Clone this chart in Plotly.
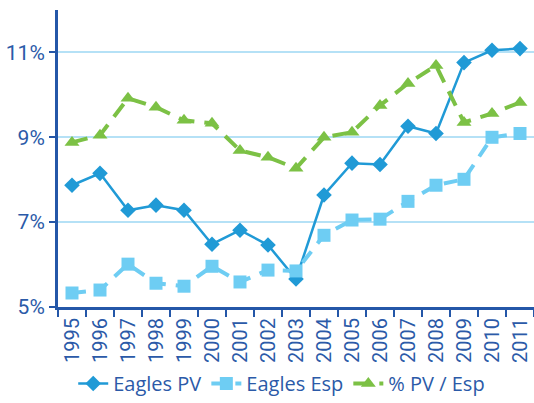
import plotly.graph_objects as go

years = [str(y) for y in range(1995, 2012)]
eagles_pv = [7.87, 8.15, 7.28, 7.40, 7.28, 6.48, 6.81, 6.46, 5.66, 7.64, 8.39, 8.36, 9.26, 9.09, 10.76, 11.05, 11.09]
eagles_esp = [5.33, 5.40, 6.01, 5.56, 5.49, 5.96, 5.59, 5.87, 5.85, 6.69, 7.05, 7.07, 7.49, 7.87, 8.01, 9.00, 9.09]
pv_esp = [8.88, 9.05, 9.92, 9.71, 9.40, 9.33, 8.69, 8.53, 8.27, 9.00, 9.12, 9.75, 10.27, 10.69, 9.35, 9.56, 9.82]
y_ticks = [5, 7, 9, 11]
y_labels = [f"{v}%" for v in y_ticks]

axis_blue = "#2457a8"
text_blue = "#2b5aa8"
grid_blue = "#b5e1f6"
font_family = "Roboto, 'Open Sans', sans-serif"

fig = go.Figure()
fig.add_trace(go.Scatter(
    x=years, y=eagles_pv, name="Eagles PV", mode="lines+markers",
    line=dict(color="#209ad6", width=2.5),
    marker=dict(symbol="diamond", size=12, color="#209ad6"),
))
fig.add_trace(go.Scatter(
    x=years, y=eagles_esp, name="Eagles Esp", mode="lines+markers",
    line=dict(color="#6ecdf3", width=4, dash="14px,10px"),
    marker=dict(symbol="square", size=13, color="#6ecdf3"),
))
fig.add_trace(go.Scatter(
    x=years, y=pv_esp, name="% PV / Esp", mode="lines+markers",
    line=dict(color="#7cc145", width=4, dash="16px,10px"),
    marker=dict(symbol="triangle-up", size=13, color="#7cc145"),
))

fig.update_layout(
    width=534, height=403,
    margin=dict(l=58, r=0, t=10, b=95),
    paper_bgcolor="white", plot_bgcolor="white",
    font=dict(family=font_family, color=text_blue),
    showlegend=True,
    legend=dict(orientation="h", x=0.47, xanchor="center", y=-0.19, yanchor="top",
                font=dict(size=20, color=text_blue, family="'Open Sans', sans-serif"),
                traceorder="normal", itemwidth=30),
    xaxis=dict(
        type="category", showgrid=False, automargin=False,
        showline=True, linecolor=axis_blue, linewidth=3,
        ticks="outside", tickson="boundaries", ticklen=7, tickwidth=1.5, tickcolor=axis_blue,
        tickangle=-90, tickfont=dict(size=20, color=text_blue),
        range=[-0.5, 16.5],
    ),
    yaxis=dict(
        range=[5, 12], tickvals=y_ticks, ticktext=y_labels, automargin=False,
        showgrid=True, gridcolor=grid_blue, gridwidth=1.5,
        showline=True, linecolor=axis_blue, linewidth=3,
        ticks="outside", ticklen=6, tickwidth=1.5, tickcolor=axis_blue,
        tickfont=dict(size=21, color=text_blue), zeroline=False,
    ),
)

fig.write_html("out.html")
